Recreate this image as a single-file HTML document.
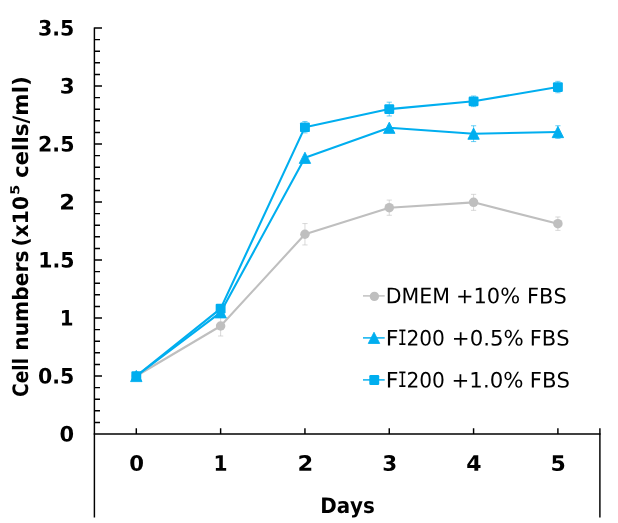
<!DOCTYPE html>
<html lang="en"><head><meta charset="utf-8"><title>Cell growth chart</title>
<style>html,body{margin:0;padding:0;background:#fff}body{width:618px;height:523px;overflow:hidden}svg{display:block}text{font-kerning:none;fill:#000;text-rendering:geometricPrecision}.b{font-family:"DejaVu Sans","Liberation Sans",sans-serif;font-weight:bold}.r{font-family:"DejaVu Sans","Liberation Sans",sans-serif;font-weight:normal}.m{font-family:"DejaVu Sans Mono","Liberation Mono",monospace;font-weight:normal}</style></head><body>
<svg width="618" height="523" viewBox="0 0 618 523">
<rect width="618" height="523" fill="#fff"/>
<g stroke="#000" stroke-width="1.45" fill="none" stroke-linecap="butt">
<path d="M94.4 27.4V517.6"/>
<path d="M93.7 433.9H600.6"/>
<path d="M599.9 428.3V517.6"/>
<path d="M94.4 422.40H100M94.4 410.80H100M94.4 399.20H100M94.4 387.60H100M94.4 376.00H102M94.4 364.40H100M94.4 352.80H100M94.4 341.20H100M94.4 329.60H100M94.4 318.00H102M94.4 306.40H100M94.4 294.80H100M94.4 283.20H100M94.4 271.60H100M94.4 260.00H102M94.4 248.40H100M94.4 236.80H100M94.4 225.20H100M94.4 213.60H100M94.4 202.00H102M94.4 190.40H100M94.4 178.80H100M94.4 167.20H100M94.4 155.60H100M94.4 144.00H102M94.4 132.40H100M94.4 120.80H100M94.4 109.20H100M94.4 97.60H100M94.4 86.00H102M94.4 74.40H100M94.4 62.80H100M94.4 51.20H100M94.4 39.60H100M94.4 28.00H102"/>
<path d="M136.30 434V428.3M220.62 434V428.3M304.94 434V428.3M389.26 434V428.3M473.58 434V428.3M557.90 434V428.3"/>
</g>
<path d="M220.62 316.00V336.00M218.02 316.00H223.22M218.02 336.00H223.22M304.94 223.55V244.95M302.34 223.55H307.54M302.34 244.95H307.54M389.26 200.08V215.28M386.66 200.08H391.86M386.66 215.28H391.86M473.58 194.35V210.35M470.98 194.35H476.18M470.98 210.35H476.18M557.90 216.99V230.39M555.30 216.99H560.50M555.30 230.39H560.50" stroke="#bfbfbf" stroke-width="0.8" fill="none" opacity="0.75"/>
<polyline points="136.30,376.00 220.62,326.00 304.94,234.25 389.26,207.68 473.58,202.35 557.90,223.69" fill="none" stroke="#bfbfbf" stroke-width="2.1" stroke-linejoin="round" stroke-linecap="round"/>
<circle cx="136.30" cy="376.00" r="4.75" fill="#bfbfbf"/>
<circle cx="220.62" cy="326.00" r="4.75" fill="#bfbfbf"/>
<circle cx="304.94" cy="234.25" r="4.75" fill="#bfbfbf"/>
<circle cx="389.26" cy="207.68" r="4.75" fill="#bfbfbf"/>
<circle cx="473.58" cy="202.35" r="4.75" fill="#bfbfbf"/>
<circle cx="557.90" cy="223.69" r="4.75" fill="#bfbfbf"/>
<path d="M473.58 125.78V141.58M470.98 125.78H476.18M470.98 141.58H476.18M557.90 125.75V138.35M555.30 125.75H560.50M555.30 138.35H560.50" stroke="#00aeef" stroke-width="0.8" fill="none" opacity="0.75"/>
<polyline points="136.30,376.00 220.62,312.32 304.94,157.80 389.26,127.76 473.58,133.68 557.90,132.05" fill="none" stroke="#00aeef" stroke-width="2.1" stroke-linejoin="round" stroke-linecap="round"/>
<path d="M136.30 370.40L142.00 381.60H130.60Z" fill="#00aeef" stroke="#00aeef" stroke-width="0.9" stroke-linejoin="round"/>
<path d="M220.62 306.72L226.32 317.92H214.92Z" fill="#00aeef" stroke="#00aeef" stroke-width="0.9" stroke-linejoin="round"/>
<path d="M304.94 152.20L310.64 163.40H299.24Z" fill="#00aeef" stroke="#00aeef" stroke-width="0.9" stroke-linejoin="round"/>
<path d="M389.26 122.16L394.96 133.36H383.56Z" fill="#00aeef" stroke="#00aeef" stroke-width="0.9" stroke-linejoin="round"/>
<path d="M473.58 128.08L479.28 139.28H467.88Z" fill="#00aeef" stroke="#00aeef" stroke-width="0.9" stroke-linejoin="round"/>
<path d="M557.90 126.45L563.60 137.65H552.20Z" fill="#00aeef" stroke="#00aeef" stroke-width="0.9" stroke-linejoin="round"/>
<path d="M304.94 121.48V132.88M302.34 121.48H307.54M302.34 132.88H307.54M389.26 102.18V115.98M386.66 102.18H391.86M386.66 115.98H391.86M473.58 96.01V106.61M470.98 96.01H476.18M470.98 106.61H476.18M557.90 81.34V92.74M555.30 81.34H560.50M555.30 92.74H560.50" stroke="#00aeef" stroke-width="0.8" fill="none" opacity="0.75"/>
<polyline points="136.30,376.00 220.62,308.60 304.94,127.18 389.26,109.08 473.58,101.31 557.90,87.04" fill="none" stroke="#00aeef" stroke-width="2.1" stroke-linejoin="round" stroke-linecap="round"/>
<rect x="131.35" y="371.20" width="9.9" height="9.7" rx="1.2" fill="#00aeef"/>
<rect x="215.67" y="303.80" width="9.9" height="9.7" rx="1.2" fill="#00aeef"/>
<rect x="299.99" y="122.38" width="9.9" height="9.7" rx="1.2" fill="#00aeef"/>
<rect x="384.31" y="104.28" width="9.9" height="9.7" rx="1.2" fill="#00aeef"/>
<rect x="468.63" y="96.51" width="9.9" height="9.7" rx="1.2" fill="#00aeef"/>
<rect x="552.95" y="82.24" width="9.9" height="9.7" rx="1.2" fill="#00aeef"/>
<text class="b" x="59.60" y="441.50" font-size="21.2" textLength="14.61" lengthAdjust="spacingAndGlyphs" transform="rotate(0.03 59.60 441.50)">0</text>
<text class="b" x="38.02" y="383.50" font-size="21.2" textLength="36.42" lengthAdjust="spacingAndGlyphs" transform="rotate(0.03 38.02 383.50)">0.5</text>
<text class="b" x="59.76" y="325.50" font-size="21.2" textLength="13.80" lengthAdjust="spacingAndGlyphs" transform="rotate(0.03 59.76 325.50)">1</text>
<text class="b" x="38.19" y="267.50" font-size="21.2" textLength="36.24" lengthAdjust="spacingAndGlyphs" transform="rotate(0.03 38.19 267.50)">1.5</text>
<text class="b" x="59.21" y="209.50" font-size="21.2" textLength="15.76" lengthAdjust="spacingAndGlyphs" transform="rotate(0.03 59.21 209.50)">2</text>
<text class="b" x="38.08" y="151.50" font-size="21.2" textLength="36.36" lengthAdjust="spacingAndGlyphs" transform="rotate(0.03 38.08 151.50)">2.5</text>
<text class="b" x="59.66" y="93.50" font-size="21.2" textLength="14.95" lengthAdjust="spacingAndGlyphs" transform="rotate(0.03 59.66 93.50)">3</text>
<text class="b" x="38.03" y="35.50" font-size="21.2" textLength="36.41" lengthAdjust="spacingAndGlyphs" transform="rotate(0.03 38.03 35.50)">3.5</text>
<text class="b" x="129.24" y="470.80" font-size="21.2" textLength="14.73" lengthAdjust="spacingAndGlyphs" transform="rotate(0.03 129.24 470.80)">0</text>
<text class="b" x="213.44" y="470.80" font-size="21.2" textLength="14.07" lengthAdjust="spacingAndGlyphs" transform="rotate(0.03 213.44 470.80)">1</text>
<text class="b" x="297.45" y="470.80" font-size="21.2" textLength="15.76" lengthAdjust="spacingAndGlyphs" transform="rotate(0.03 297.45 470.80)">2</text>
<text class="b" x="382.22" y="470.80" font-size="21.2" textLength="14.95" lengthAdjust="spacingAndGlyphs" transform="rotate(0.03 382.22 470.80)">3</text>
<text class="b" x="466.24" y="470.80" font-size="21.2" textLength="15.30" lengthAdjust="spacingAndGlyphs" transform="rotate(0.03 466.24 470.80)">4</text>
<text class="b" x="550.45" y="470.80" font-size="21.2" textLength="15.34" lengthAdjust="spacingAndGlyphs" transform="rotate(0.03 550.45 470.80)">5</text>
<text class="b" x="320.18" y="512.50" font-size="21.4" textLength="54.66" lengthAdjust="spacingAndGlyphs" transform="rotate(0.03 320.18 512.50)">Days</text>
<g transform="translate(27.9 0) rotate(-90)">
<text class="b" transform="rotate(0.03 -396 0)"><tspan x="-396.93" y="0.00" font-size="21.2" textLength="38.99" lengthAdjust="spacingAndGlyphs">Cell</tspan> <tspan x="-350.80" y="0.00" font-size="21.2" textLength="100.26" lengthAdjust="spacingAndGlyphs">numbers</tspan> <tspan x="-246.44" y="0.00" font-size="21.2" textLength="50.40" lengthAdjust="spacingAndGlyphs">(x10</tspan><tspan x="-194.70" y="-8.80" font-size="12.4" textLength="9.89" lengthAdjust="spacingAndGlyphs">5</tspan> <tspan x="-178.12" y="0.00" font-size="21.2" textLength="101.86" lengthAdjust="spacingAndGlyphs">cells/ml)</tspan></text>
</g>
<path d="M363.0 295.9H384.7" stroke="#bfbfbf" stroke-width="1.45" fill="none"/>
<circle cx="374.4" cy="296.4" r="4.65" fill="#bfbfbf"/>
<text class="r" transform="rotate(0.03 388 303.30)"><tspan x="385.78" y="303.30" font-size="21.2" textLength="64.22" lengthAdjust="spacingAndGlyphs">DMEM</tspan> <tspan x="455.98" y="303.30" font-size="21.2" textLength="64.07" lengthAdjust="spacingAndGlyphs">+10%</tspan> <tspan x="527.05" y="303.30" font-size="21.2" textLength="39.61" lengthAdjust="spacingAndGlyphs">FBS</tspan></text>
<path d="M363.0 337.9H384.7" stroke="#00aeef" stroke-width="1.45" fill="none"/>
<path d="M374.00 332.25L379.70 343.45H368.30Z" fill="#00aeef" stroke="#00aeef" stroke-width="0.9" stroke-linejoin="round"/>
<text class="r" transform="rotate(0.03 388 345.40)"><tspan x="385.82" y="345.40" font-size="21.2" textLength="12.77" lengthAdjust="spacingAndGlyphs">F</tspan><tspan class="m" x="397.70" y="345.40" font-size="21.2" textLength="9.22" lengthAdjust="spacingAndGlyphs">I</tspan><tspan x="406.42" y="345.40" font-size="21.2" textLength="38.52" lengthAdjust="spacingAndGlyphs">200</tspan> <tspan x="451.84" y="345.40" font-size="21.2" textLength="71.93" lengthAdjust="spacingAndGlyphs">+0.5%</tspan> <tspan x="529.74" y="345.40" font-size="21.2" textLength="39.83" lengthAdjust="spacingAndGlyphs">FBS</tspan></text>
<path d="M363.0 379.9H384.7" stroke="#00aeef" stroke-width="1.45" fill="none"/>
<rect x="369.30" y="375.10" width="9.9" height="9.9" rx="1.2" fill="#00aeef"/>
<text class="r" transform="rotate(0.03 388 387.40)"><tspan x="385.82" y="387.40" font-size="21.2" textLength="12.77" lengthAdjust="spacingAndGlyphs">F</tspan><tspan class="m" x="397.70" y="387.40" font-size="21.2" textLength="9.22" lengthAdjust="spacingAndGlyphs">I</tspan><tspan x="406.42" y="387.40" font-size="21.2" textLength="38.52" lengthAdjust="spacingAndGlyphs">200</tspan> <tspan x="451.55" y="387.40" font-size="21.2" textLength="71.83" lengthAdjust="spacingAndGlyphs">+1.0%</tspan> <tspan x="529.82" y="387.40" font-size="21.2" textLength="40.16" lengthAdjust="spacingAndGlyphs">FBS</tspan></text>
</svg></body></html>
